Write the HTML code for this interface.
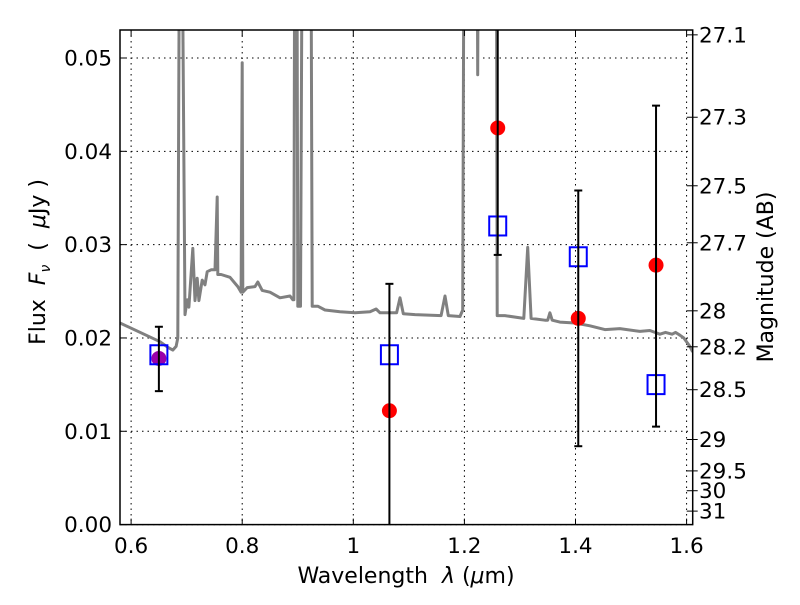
<!DOCTYPE html>
<html><head><meta charset="utf-8"><style>
body{margin:0;background:#fff;}
svg text{font-family:"DejaVu Sans","Liberation Sans",sans-serif;fill:#000;}
</style></head><body>
<svg id="chart" width="800" height="600" xmlns="http://www.w3.org/2000/svg">
<rect width="800" height="600" fill="#fff"/>
<defs><clipPath id="clip"><rect x="120" y="30" width="572.7" height="494.6"/></clipPath></defs>
<g id="grid"></g>
<g id="spec" clip-path="url(#clip)"></g>
<g id="marks" clip-path="url(#clip)"></g>
<rect x="120" y="30" width="572.7" height="494.6" fill="none" stroke="#000" stroke-width="1.5"/>
<g id="axes"></g>
<text x="406" y="583" text-anchor="middle" font-size="22">Wavelength&#160;&#160;<tspan font-style="italic">λ</tspan> (<tspan font-style="italic">μ</tspan>m)</text>
<text transform="translate(45,262) rotate(-90)" text-anchor="middle" font-size="22">Flux&#160;&#160;<tspan font-style="italic">F</tspan><tspan font-style="italic" font-size="14" dy="5">ν</tspan><tspan dy="-5">&#160;&#160;(&#160;&#160;</tspan><tspan font-style="italic">μ</tspan>Jy )</text>
<text transform="translate(773,277) rotate(-90)" text-anchor="middle" font-size="22">Magnitude (AB)</text>
</svg>
<script>
const specLam=[0.580,0.652,0.666,0.675,0.681,0.684,0.688,0.690,0.697,0.701,0.704,0.711,0.715,0.719,0.722,0.728,0.733,0.737,0.744,0.751,0.755,0.756,0.762,0.778,0.792,0.798,0.800,0.801,0.809,0.823,0.828,0.836,0.850,0.868,0.886,0.891,0.893,0.895,0.898,0.900,0.905,0.909,0.915,0.920,0.923,0.926,0.936,0.949,0.976,1.003,1.030,1.041,1.048,1.078,1.084,1.090,1.111,1.158,1.165,1.171,1.192,1.197,1.200,1.222,1.224,1.226,1.230,1.242,1.257,1.259,1.273,1.307,1.314,1.320,1.345,1.350,1.354,1.358,1.372,1.399,1.426,1.453,1.480,1.516,1.534,1.552,1.562,1.574,1.580,1.588,1.595,1.606,1.611];
const specFlux=[0.0216,0.0196,0.0190,0.0187,0.0191,0.0200,0.0800,0.0800,0.0225,0.0241,0.0233,0.0296,0.0240,0.0264,0.0240,0.0262,0.0257,0.0271,0.0273,0.0273,0.0351,0.0268,0.0268,0.0265,0.0255,0.0249,0.0495,0.0249,0.0254,0.0255,0.0260,0.0251,0.0249,0.0243,0.0245,0.0241,0.0241,0.0800,0.0800,0.0234,0.0234,0.0800,0.0800,0.0800,0.0800,0.0234,0.0234,0.0230,0.0228,0.0227,0.0228,0.0231,0.0227,0.0227,0.0243,0.0226,0.0225,0.0224,0.0245,0.0224,0.0223,0.0230,0.0800,0.0800,0.0482,0.0800,0.0800,0.0800,0.0800,0.0224,0.0224,0.0221,0.0297,0.0221,0.0219,0.0219,0.0227,0.0219,0.0217,0.0216,0.0213,0.0209,0.0210,0.0207,0.0208,0.0204,0.0206,0.0204,0.0206,0.0203,0.0200,0.0191,0.0185];
const obsLam=[0.650,1.065,1.260,1.405,1.545];
const redFlux=[0.0178,0.0122,0.0425,0.0221,0.0278];
const redColors=["#9900aa","#ff0000","#ff0000","#ff0000","#ff0000"];
const squareFlux=[0.0182,0.0182,0.0320,0.0287,0.0150];
const errLow=[0.0143,-0.005,0.0289,0.0084,0.0105];
const errHigh=[0.0212,0.0258,0.0700,0.0358,0.0449];
const xTicks=[0.6,0.8,1.0,1.2,1.4,1.6];
const xTickLabels=["0.6","0.8","1","1.2","1.4","1.6"];
const yTicks=[0,0.01,0.02,0.03,0.04,0.05];
const yTickLabels=["0.00","0.01","0.02","0.03","0.04","0.05"];
const magTicks=[27.1,27.3,27.5,27.7,28,28.2,28.5,29,29.5,30,31];
const magLabels=["27.1","27.3","27.5","27.7","28","28.2","28.5","29","29.5","30","31"];

const X0=120,X1=692.7,Y0=524.6,Y1=30;
const xmin=0.58,xmax=1.611,ymin=0,ymax=0.0530;
const sx=v=>X0+(v-xmin)/(xmax-xmin)*(X1-X0);
const sy=v=>Y0-(v-ymin)/(ymax-ymin)*(Y0-Y1);
const NS="http://www.w3.org/2000/svg";
function mk(tag,attrs,parent){const e=document.createElementNS(NS,tag);for(const k in attrs)e.setAttribute(k,attrs[k]);parent.appendChild(e);return e;}
const grid=document.getElementById('grid'),axes=document.getElementById('axes');
xTicks.forEach((t,i)=>{
  const x=sx(t);
  const g=mk('line',{x1:x,x2:x,y1:Y1,y2:Y0,stroke:'#000','stroke-width':1,'stroke-dasharray':'1.5,4'},grid);
  
  
  mk('line',{x1:x,x2:x,y1:Y0,y2:Y0-6,stroke:'#000'},axes);
  mk('line',{x1:x,x2:x,y1:Y1,y2:Y1+6,stroke:'#000'},axes);
  const tx=mk('text',{x:x,y:553,'text-anchor':'middle','font-size':21.5},axes);
  tx.textContent=xTickLabels[i];
  
  
});
yTicks.forEach((t,i)=>{
  const y=sy(t);
  const g=mk('line',{x1:X0,x2:X1,y1:y,y2:y,stroke:'#000','stroke-width':1,'stroke-dasharray':'1.5,4'},grid);
  
  
  mk('line',{x1:X0,x2:X0+6,y1:y,y2:y,stroke:'#000'},axes);
  const tx=mk('text',{x:112,y:y+7.5,'text-anchor':'end','font-size':21.5},axes);
  tx.textContent=yTickLabels[i];
  
  
});
magTicks.forEach((m,i)=>{
  const f=Math.pow(10,-0.4*(m-23.9));
  const y=sy(f);
  mk('line',{x1:X1-6,x2:X1,y1:y,y2:y,stroke:'#000'},axes);
  mk('line',{x1:X1,x2:X1+5,y1:y,y2:y,stroke:'#000'},axes);
  const tx=mk('text',{x:699,y:y+7.5,'font-size':21.5},axes);
  tx.textContent=magLabels[i];
  
  
});
const spec=document.getElementById('spec');
const pts=specLam.map((l,i)=>sx(l).toFixed(1)+','+sy(specFlux[i]).toFixed(1)).join(' ');
const pl=mk('polyline',{points:pts,fill:'none',stroke:'#808080','stroke-width':3,'stroke-linejoin':'round'},spec);


const marks=document.getElementById('marks');
obsLam.forEach((l,i)=>{
  const x=sx(l);
  const c=mk('circle',{cx:x,cy:sy(redFlux[i]),r:7.5,fill:redColors[i]},marks);
  
  
  const s=mk('rect',{x:x-8.5,y:sy(squareFlux[i])-9.5,width:17,height:19,fill:'none',stroke:'#0000ff','stroke-width':2},marks);
  
  
  const e=mk('line',{x1:x,x2:x,y1:sy(errLow[i]),y2:sy(errHigh[i]),stroke:'#000','stroke-width':2},marks);
  
  
  [errLow[i],errHigh[i]].forEach(v=>{mk('line',{x1:x-4,x2:x+4,y1:sy(v),y2:sy(v),stroke:'#000','stroke-width':2},marks);});
});
</script>
</body></html>
